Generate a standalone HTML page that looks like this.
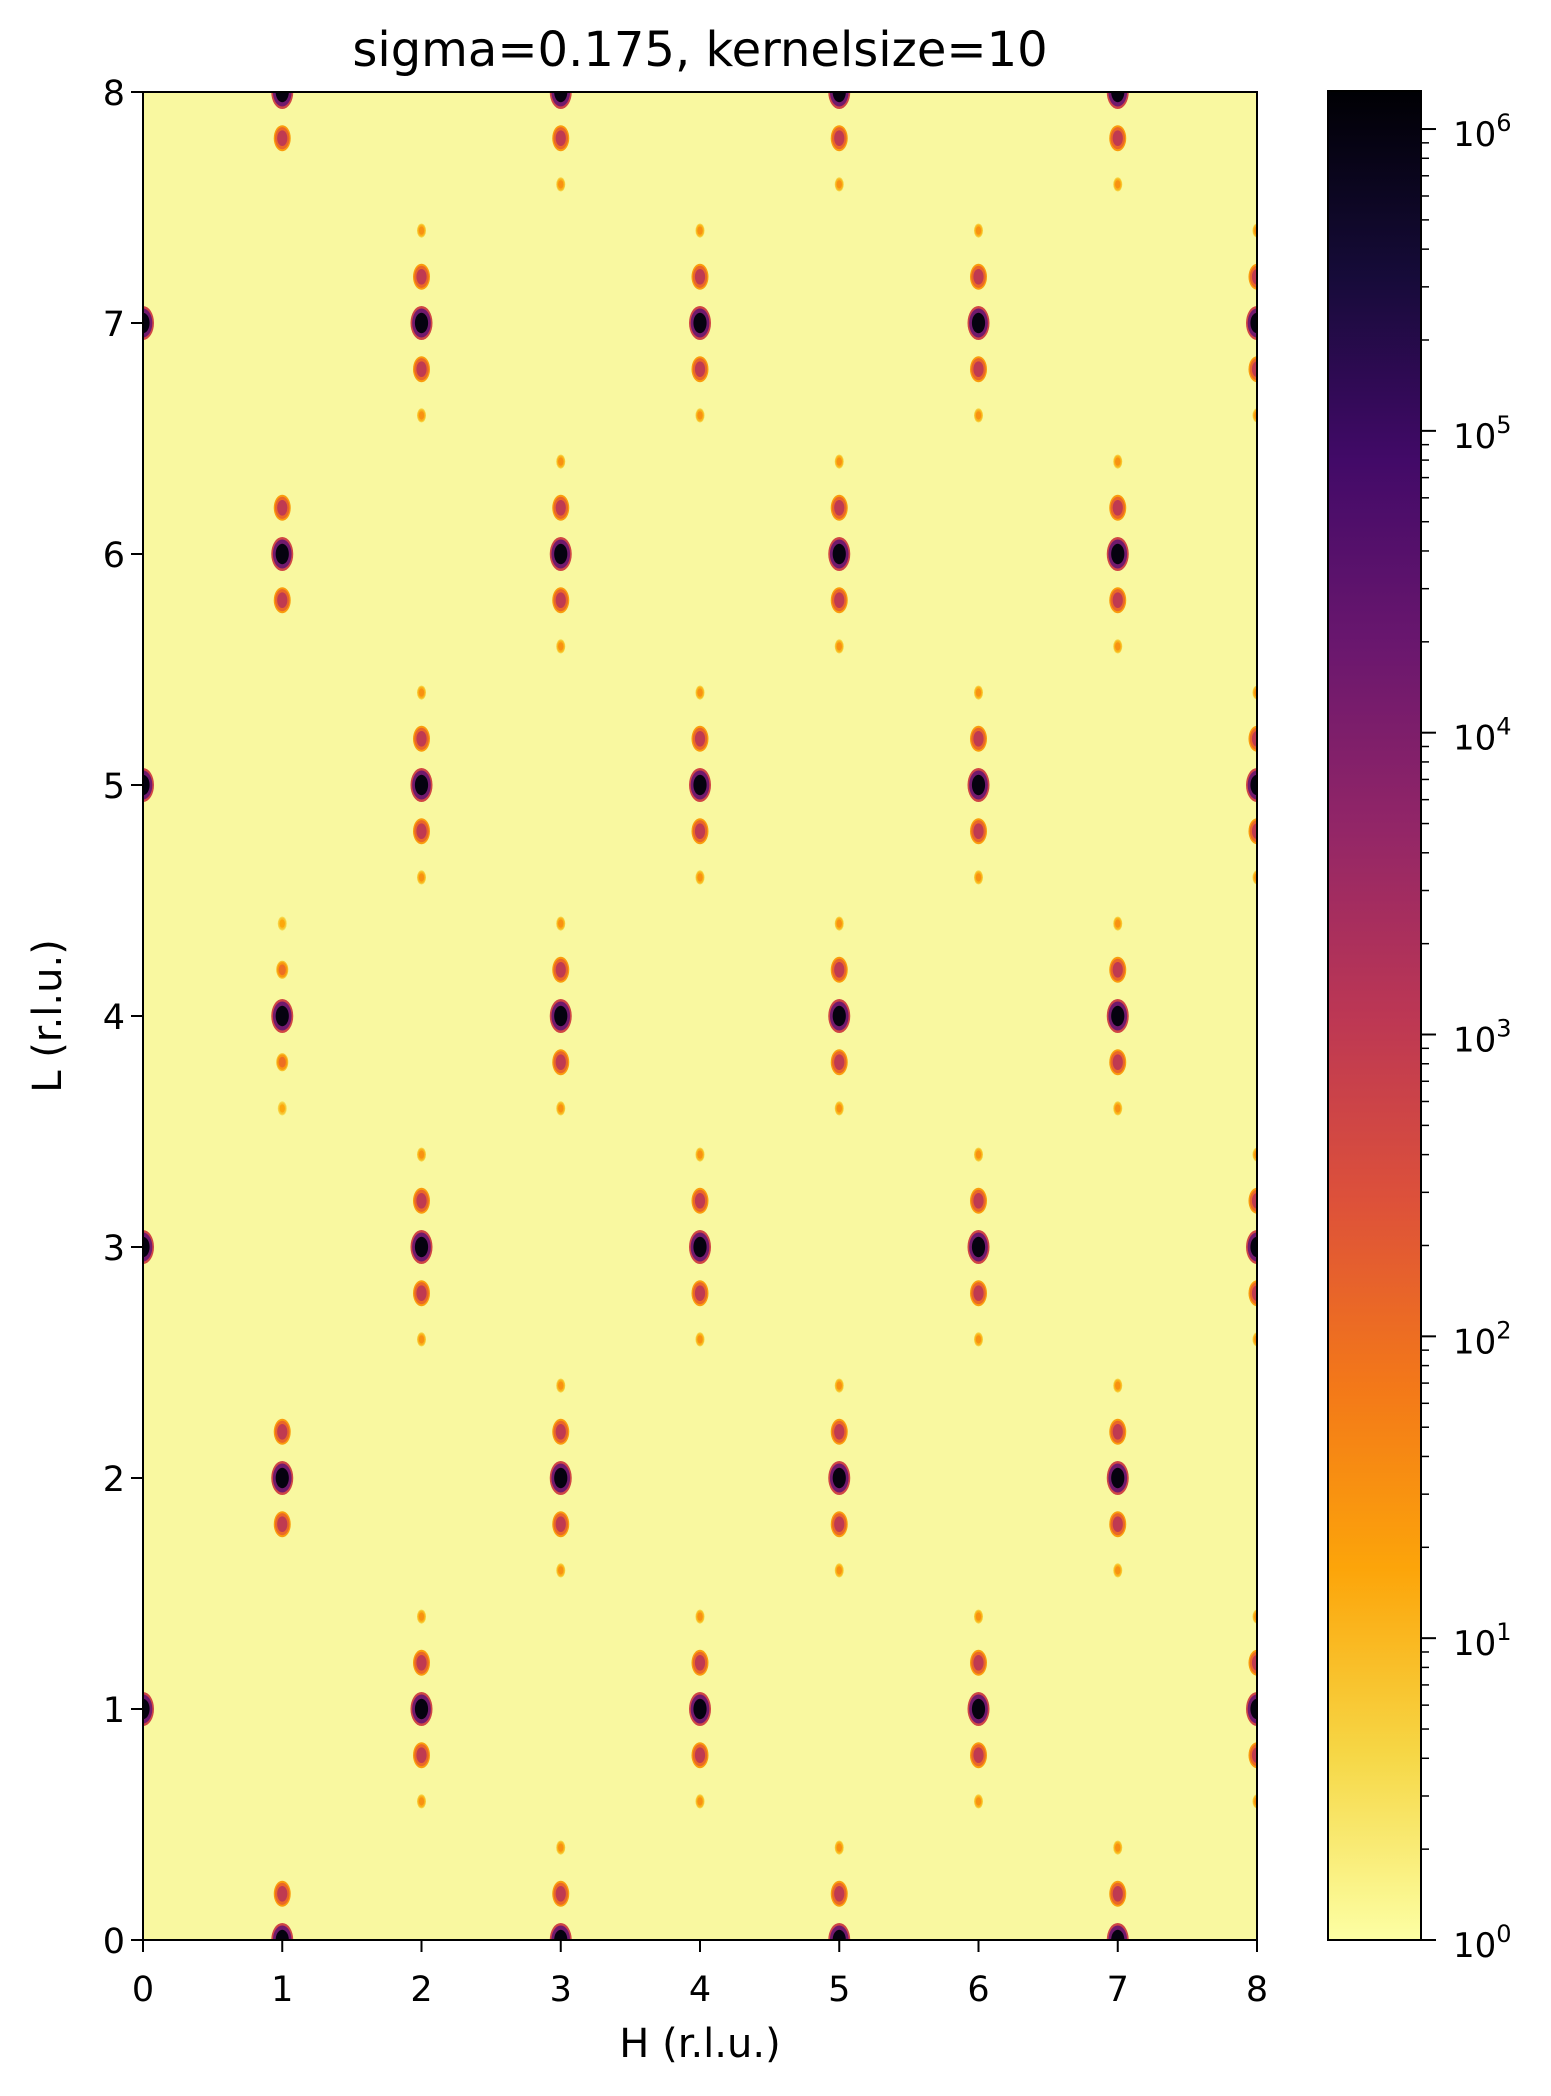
<!DOCTYPE html>
<html><head><meta charset="utf-8"><style>
body{margin:0;background:#fff}
svg{display:block;font-family:"DejaVu Sans","Liberation Sans",sans-serif}
</style></head><body>
<svg id="chart" width="1551" height="2096" viewBox="0 0 1551 2096">
<defs>
<clipPath id="clip"><rect x="143" y="92" width="1114" height="1848"/></clipPath>
<linearGradient id="cbar" x1="0" y1="1" x2="0" y2="0">
<stop offset="0" stop-color="#fcffa4"/><stop offset="0.1" stop-color="#f6d746"/><stop offset="0.2" stop-color="#fca50a"/>
<stop offset="0.3" stop-color="#f37819"/><stop offset="0.4" stop-color="#dd513a"/><stop offset="0.5" stop-color="#bc3754"/>
<stop offset="0.6" stop-color="#932667"/><stop offset="0.7" stop-color="#6a176e"/><stop offset="0.8" stop-color="#420a68"/>
<stop offset="0.9" stop-color="#160b39"/><stop offset="1" stop-color="#000004"/>
</linearGradient>
</defs>
<text x="700" y="66" font-size="48" text-anchor="middle">sigma=0.175, kernelsize=10</text>
<rect x="143" y="92" width="1114" height="1848" fill="#f9f8a0"/>
<g id="peaks" clip-path="url(#clip)"></g>
<rect x="143" y="92" width="1114" height="1848" fill="none" stroke="#000" stroke-width="2"/>
<g id="axes"></g>
<text x="700" y="2057" font-size="40" text-anchor="middle">H (r.l.u.)</text>
<text transform="translate(61,1016) rotate(-90)" font-size="40" text-anchor="middle">L (r.l.u.)</text>
<rect x="1328" y="91" width="93" height="1849" fill="url(#cbar)" stroke="#000" stroke-width="2"/>
<g id="cbaxis"></g>
</svg>
<script>
const xTicks=[0,1,2,3,4,5,6,7,8];
const yTicks=[0,1,2,3,4,5,6,7,8];
const cbExps=[0,1,2,3,4,5,6];
const cbMax=6.126;
// peaks: H, L, log10 intensity
const peakH=[0,0,0,0,
 2,2,2,2,2, 2,2,2,2,2, 2,2,2,2,2, 2,2,2,2,2,
 4,4,4,4,4, 4,4,4,4,4, 4,4,4,4,4, 4,4,4,4,4,
 6,6,6,6,6, 6,6,6,6,6, 6,6,6,6,6, 6,6,6,6,6,
 8,8,8,8,8, 8,8,8,8,8, 8,8,8,8,8, 8,8,8,8,8,
 1,1, 1,1,1, 1,1,1,1,1, 1,1,1, 1,1,
 3,3,3, 3,3,3,3,3, 3,3,3,3,3, 3,3,3,3,3, 3,3,3,
 5,5,5, 5,5,5,5,5, 5,5,5,5,5, 5,5,5,5,5, 5,5,5,
 7,7,7, 7,7,7,7,7, 7,7,7,7,7, 7,7,7,7,7, 7,7,7];
const peakL=[1,3,5,7,
 7,7.2,6.8,7.4,6.6, 5,5.2,4.8,5.4,4.6, 3,3.2,2.8,3.4,2.6, 1,1.2,0.8,1.4,0.6,
 7,7.2,6.8,7.4,6.6, 5,5.2,4.8,5.4,4.6, 3,3.2,2.8,3.4,2.6, 1,1.2,0.8,1.4,0.6,
 7,7.2,6.8,7.4,6.6, 5,5.2,4.8,5.4,4.6, 3,3.2,2.8,3.4,2.6, 1,1.2,0.8,1.4,0.6,
 7,7.2,6.8,7.4,6.6, 5,5.2,4.8,5.4,4.6, 3,3.2,2.8,3.4,2.6, 1,1.2,0.8,1.4,0.6,
 8,7.8, 6,6.2,5.8, 4,4.2,3.8,4.4,3.6, 2,2.2,1.8, 0,0.2,
 8,7.8,7.6, 6,6.2,5.8,6.4,5.6, 4,4.2,3.8,4.4,3.6, 2,2.2,1.8,2.4,1.6, 0,0.2,0.4,
 8,7.8,7.6, 6,6.2,5.8,6.4,5.6, 4,4.2,3.8,4.4,3.6, 2,2.2,1.8,2.4,1.6, 0,0.2,0.4,
 8,7.8,7.6, 6,6.2,5.8,6.4,5.6, 4,4.2,3.8,4.4,3.6, 2,2.2,1.8,2.4,1.6, 0,0.2,0.4];
const peakLogI=[6,6,6,6,
 6,3,3,1.5,1.5, 6,3,3,1.5,1.5, 6,3,3,1.5,1.5, 6,3,3,1.5,1.5,
 6,3,3,1.5,1.5, 6,3,3,1.5,1.5, 6,3,3,1.5,1.5, 6,3,3,1.5,1.5,
 6,3,3,1.5,1.5, 6,3,3,1.5,1.5, 6,3,3,1.5,1.5, 6,3,3,1.5,1.5,
 6,3,3,1.5,1.5, 6,3,3,1.5,1.5, 6,3,3,1.5,1.5, 6,3,3,1.5,1.5,
 6,3, 6,3,3, 6,2,2,1.2,1.2, 6,3,3, 6,3,
 6,3,1.5, 6,3,3,1.5,1.5, 6,3,3,1.5,1.5, 6,3,3,1.5,1.5, 6,3,1.5,
 6,3,1.5, 6,3,3,1.5,1.5, 6,3,3,1.5,1.5, 6,3,3,1.5,1.5, 6,3,1.5,
 6,3,1.5, 6,3,3,1.5,1.5, 6,3,3,1.5,1.5, 6,3,3,1.5,1.5, 6,3,1.5];

const NS='http://www.w3.org/2000/svg';
const X0=143,X1=1257,Y0=1940,Y1=92;
const xs=h=>X0+(X1-X0)*h/8;
const ys=l=>Y0-(Y0-Y1)*l/8;
const cbY=e=>1940-(1940-91)*e/cbMax;
const stops=['#000004','#160b39','#420a68','#6a176e','#932667','#bc3754','#dd513a','#f37819','#fca50a','#f6d746','#fcffa4'];
function hex(c){return [1,3,5].map(i=>parseInt(c.substr(i,2),16));}
function cmap(logI){let t=1-Math.max(0,Math.min(1,logI/cbMax));let p=t*10,i=Math.min(9,Math.floor(p)),f=p-i;
 const a=hex(stops[i]),b=hex(stops[i+1]);return 'rgb('+a.map((v,k)=>Math.round(v+(b[k]-v)*f)).join(',')+')';}
function mk(tag,attrs,parent){const e=document.createElementNS(NS,tag);for(const k in attrs)e.setAttribute(k,attrs[k]);parent.appendChild(e);return e;}

const pg=document.getElementById('peaks');
for(let i=0;i<peakH.length;i++){
 const v=peakLogI[i];const cx=xs(peakH[i]),cy=ys(peakL[i]);
 const rx=v>=5?11:(v>=2.5?8.5:(v>=1.8?6:4.5)), ry=v>=5?17:(v>=2.5?13:(v>=1.8?9:7));
 const g=mk('g',{},pg);
 
 
 [[1,0.45],[0.85,0.7],[0.6,1]].forEach(([s,f])=>{
  mk('ellipse',{cx:cx,cy:cy,rx:rx*s,ry:ry*s,fill:cmap(v*f)},g);
 });
}

const ax=document.getElementById('axes');
xTicks.forEach(t=>{
 const l=mk('line',{x1:xs(t),x2:xs(t),y1:Y0,y2:Y0+12,stroke:'#000','stroke-width':2},ax);
 
 
 const tx=mk('text',{x:xs(t),y:2001,'font-size':35,'text-anchor':'middle'},ax);tx.textContent=t;
 
 
});
yTicks.forEach(t=>{
 const l=mk('line',{x1:X0-12,x2:X0,y1:ys(t),y2:ys(t),stroke:'#000','stroke-width':2},ax);
 
 
 const tx=mk('text',{x:X0-18,y:ys(t)+13,'font-size':35,'text-anchor':'end'},ax);tx.textContent=t;
 
 
});
const cb=document.getElementById('cbaxis');
cbExps.forEach(e=>{
 const y=cbY(e);
 mk('line',{x1:1421,x2:1436,y1:y,y2:y,stroke:'#000','stroke-width':2},cb);
 for(let m=2;m<=9;m++){const ym=cbY(e+Math.log10(m));if(ym>=91)mk('line',{x1:1421,x2:1429,y1:ym,y2:ym,stroke:'#000','stroke-width':1.5},cb);}
 const tx=mk('text',{x:1453,y:y+17,'font-size':34},cb);
 
 
 tx.textContent='10';
 const sp=mk('tspan',{dy:-15,'font-size':24},tx);sp.textContent=e;
});
</script>
</body></html>
